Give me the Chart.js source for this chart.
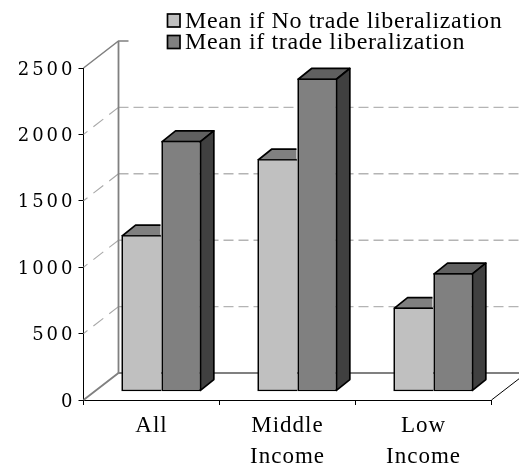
<!DOCTYPE html>
<html><head><meta charset="utf-8">
<style>html,body{margin:0;padding:0;background:#fff}canvas{display:block}</style>
<script src="https://cdn.jsdelivr.net/npm/chart.js@4"></script>
</head><body><canvas id="c" width="519" height="470"></canvas>
<script>
const categories = [['All'], ['Middle', 'Income'], ['Low', 'Income']];
const seriesNames = ['Mean if No trade liberalization', 'Mean if trade liberalization'];
const meanNoLib = [1179, 1751, 634];
const meanLib = [1889, 2359, 893];
const yTickStep = 500;
const yMax = 2500;

const WALL = {dx: 35, dy: 27};
const BAR_SHIFT = {dx: 9.8, dy: 8.3};
const DEPTH = {dx: 13.4, dy: 10.8};
const BORDER = 1.7;
const FACES = [{top: '#808080', side: '#606060'}, {top: '#606060', side: '#404040'}];
const SERIF = '"Liberation Serif", serif';

function line(ctx, pts, color, width, dash, offset) {
  ctx.save();
  ctx.beginPath();
  pts.forEach((p, i) => i ? ctx.lineTo(p[0], p[1]) : ctx.moveTo(p[0], p[1]));
  ctx.strokeStyle = color; ctx.lineWidth = width; ctx.setLineDash(dash || []);
  ctx.lineDashOffset = offset || 0;
  ctx.stroke();
  ctx.restore();
}
function face(ctx, pts, fill) {
  ctx.beginPath();
  pts.forEach((p, i) => i ? ctx.lineTo(p[0], p[1]) : ctx.moveTo(p[0], p[1]));
  ctx.closePath();
  ctx.fillStyle = fill; ctx.fill();
  ctx.strokeStyle = '#000'; ctx.lineWidth = BORDER; ctx.lineJoin = 'round'; ctx.stroke();
}

const wallsPlugin = {
  id: 'walls',
  beforeDatasetsDraw(chart) {
    const {ctx, scales: {x, y}} = chart;
    const l = x.left, r = x.right, b = y.getPixelForValue(0), t = y.getPixelForValue(yMax);
    const {dx, dy} = WALL;
    y.ticks.forEach(tk => {
      if (tk.value === 0 || tk.value === yMax) return;
      const py = y.getPixelForValue(tk.value);
      line(ctx, [[l, py], [l + dx, py - dy]], '#a8a8a8', 1.1, [12.5, 7.5], 7.5);
      line(ctx, [[l + dx, py - dy], [chart.width, py - dy]], '#b4b4b4', 1.4, [10, 5]);
    });
    line(ctx, [[l, t], [l + dx, t - dy], [l + dx + 10, t - dy]], '#808080', 1.5);
    line(ctx, [[l + dx, t - dy], [l + dx, b - dy]], '#808080', 1.8);
    line(ctx, [[l, b], [l + dx, b - dy], [chart.width, b - dy]], '#808080', 1.8);
    line(ctx, [[r, b], [r + dx, b - dy]], '#000', 1);
  },
  beforeDatasetDraw(chart, args) {
    const ctx = chart.ctx;
    const f = FACES[args.index];
    const inset = BORDER / 2;
    ctx.save();
    ctx.translate(BAR_SHIFT.dx, -BAR_SHIFT.dy);
    args.meta.data.forEach(bar => {
      const xl = bar.x - bar.width / 2 + inset, xr = bar.x + bar.width / 2 - inset;
      const yt = bar.y + inset, yb = bar.base - inset;
      const {dx, dy} = DEPTH;
      if (args.index === 0) {
        // the neighbouring taller bar hides everything to the right of this bar
        ctx.save();
        ctx.beginPath();
        ctx.rect(xl - 2, yt - dy - 2, xr - xl + 2, dy + 2);
        ctx.clip();
        face(ctx, [[xl, yt], [xl + dx, yt - dy], [xr + dx, yt - dy], [xr, yt]], f.top);
        ctx.restore();
      } else {
        face(ctx, [[xl, yt], [xl + dx, yt - dy], [xr + dx, yt - dy], [xr, yt]], f.top);
        face(ctx, [[xr, yt], [xr + dx, yt - dy], [xr + dx, yb - dy], [xr, yb]], f.side);
      }
    });
  },
  afterDatasetDraw(chart) { chart.ctx.restore(); }
};

const legendPlugin = {
  id: 'sideLegend',
  afterDraw(chart) {
    const ctx = chart.ctx;
    ctx.save();
    chart.data.datasets.forEach((d, i) => {
      const top = 14 + i * 21.5;
      ctx.fillStyle = d.backgroundColor; ctx.strokeStyle = '#000'; ctx.lineWidth = BORDER;
      ctx.fillRect(167.5, top, 12.5, 13); ctx.strokeRect(167.5, top, 12.5, 13);
      ctx.fillStyle = '#000';
      ctx.font = '24px ' + SERIF;
      ctx.letterSpacing = '0.65px';
      ctx.textAlign = 'left'; ctx.textBaseline = 'alphabetic';
      ctx.fillText(d.label, 185, top + 13.5);
    });
    ctx.restore();
  }
};

const tickText = {
  id: 'tickText',
  beforeDraw(chart) {
    const ctx = chart.ctx, y = chart.scales.y;
    ctx.letterSpacing = '1px';
    if (!y._wrapped) {
      const orig = y.drawLabels;
      y.drawLabels = function (area) {
        ctx.save();
        ctx.letterSpacing = '3px';
        ctx.translate(0, 2);
        orig.call(this, area);
        ctx.restore();
      };
      y._wrapped = true;
    }
  }
};

new Chart(document.getElementById('c'), {
  type: 'bar',
  data: {
    labels: categories,
    datasets: [
      {label: seriesNames[0], data: meanNoLib, backgroundColor: '#C0C0C0', borderColor: '#000', borderWidth: BORDER, borderSkipped: 'right', clip: false},
      {label: seriesNames[1], data: meanLib, backgroundColor: '#808080', borderColor: '#000', borderWidth: BORDER, borderSkipped: false, clip: false}
    ]
  },
  plugins: [tickText, wallsPlugin, legendPlugin],
  options: {
    responsive: false, animation: false,
    devicePixelRatio: 1,
    layout: {autoPadding: false, padding: {top: 68, right: 27.5, left: 0, bottom: 0}},
    datasets: {bar: {categoryPercentage: 0.588, barPercentage: 1}},
    plugins: {legend: {display: false}, tooltip: {enabled: false}, title: {display: false}},
    scales: {
      x: {
        afterFit(s) { s.height = 70; },
        grid: {offset: true, drawOnChartArea: false, color: '#000', tickLength: 5, tickColor: '#000'},
        border: {color: '#000', width: 1},
        ticks: {color: '#000', padding: 5, maxRotation: 0, autoSkip: false, font: {family: SERIF, size: 23, lineHeight: 1.37}}
      },
      y: {
        min: 0, max: yMax,
        afterFit(s) { s.width = 83.5; },
        grid: {drawOnChartArea: false, color: '#000', tickLength: 5, tickColor: '#000'},
        border: {color: '#000', width: 1},
        ticks: {stepSize: yTickStep, color: '#000', padding: 3, callback: v => String(v), font: {family: '"DejaVu Serif", serif', size: 18}}
      }
    }
  }
});
</script></body></html>
